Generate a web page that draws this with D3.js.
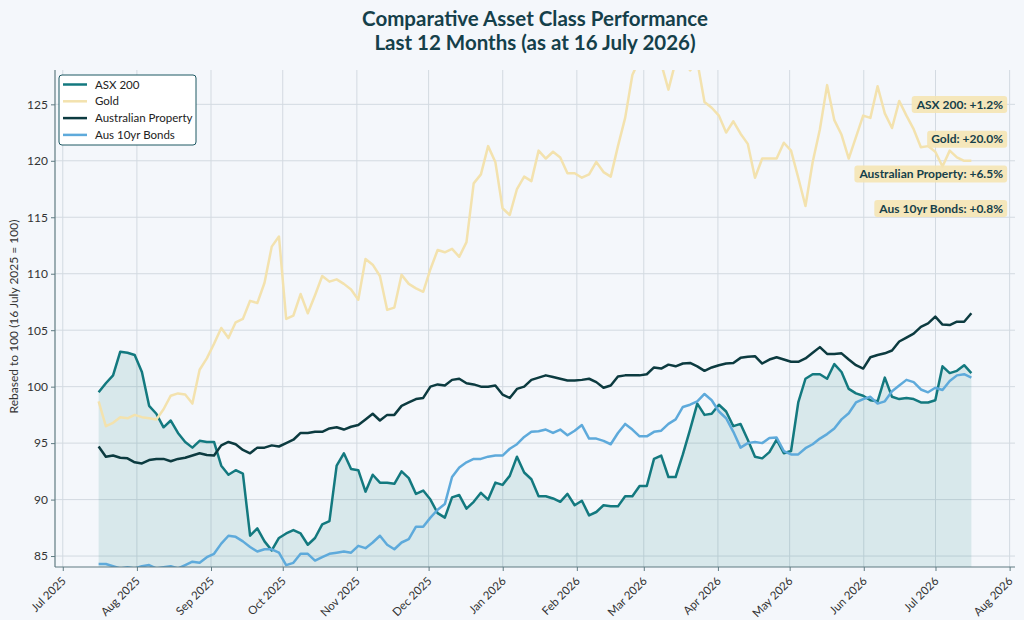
<!DOCTYPE html>
<html>
<head>
<meta charset="utf-8">
<script src="https://cdn.jsdelivr.net/npm/d3@7"></script>
<style>
  body { margin: 0; background: #f4f7fb; }
  svg text { font-family: "Source Sans Pro", Lato, "Noto Sans", sans-serif; }
</style>
</head>
<body>
<svg id="chart"></svg>
<script>
// series values, one reading every ~3 days from 16 Jul 2025 to 16 Jul 2026
var asx200 = [99.5, 100.3, 101.0, 103.1, 103.0, 102.8, 101.3, 98.3, 97.6, 96.4,
  97.0, 95.9, 95.1, 94.6, 95.2, 95.1, 95.1, 93.0, 92.2, 92.6,
  92.3, 86.8, 87.45, 86.3, 85.5, 86.6, 87.0, 87.3, 87.0, 86.0,
  86.6, 87.8, 88.1, 93.0, 94.1, 92.7, 92.6, 90.7, 92.2, 91.5,
  91.5, 91.4, 92.5, 91.9, 90.5, 90.8, 90.0, 88.8, 88.4, 90.2,
  90.4, 89.2, 89.8, 90.6, 90.0, 91.5, 91.3, 92.1, 93.8, 92.4,
  91.8, 90.3, 90.3, 90.1, 89.8, 90.5, 89.5, 89.9, 88.6, 88.9,
  89.5, 89.4, 89.4, 90.3, 90.3, 91.2, 91.2, 93.6, 93.9, 92.0,
  92.0, 94.0, 96.2, 98.5, 97.5, 97.6, 98.4, 97.8, 96.5, 96.7,
  95.3, 93.8, 93.65, 94.2, 95.3, 94.1, 94.3, 98.6, 100.7, 101.1,
  101.1, 100.7, 102.0, 101.3, 99.8, 99.4, 99.2, 98.8, 98.7, 100.8,
  99.1, 98.9, 99.0, 98.9, 98.6, 98.6, 98.8, 101.8, 101.2, 101.4,
  101.9, 101.2];

var gold = [98.7, 96.5, 96.8, 97.3, 97.2, 97.5, 97.3, 97.2, 97.1, 98.0,
  99.2, 99.4, 99.3, 98.5, 101.5, 102.5, 103.8, 105.2, 104.3, 105.7,
  106.0, 107.6, 107.4, 109.2, 112.4, 113.3, 106.0, 106.3, 108.2, 106.5,
  108.1, 109.8, 109.3, 109.5, 109.1, 108.6, 107.7, 111.3, 110.8, 109.8,
  106.8, 107.0, 109.9, 109.1, 108.7, 108.4, 110.4, 112.1, 111.9, 112.2,
  111.5, 112.8, 118.0, 118.8, 121.3, 119.9, 115.8, 115.2, 117.5, 118.6,
  118.2, 120.9, 120.2, 120.8, 120.3, 118.9, 118.9, 118.5, 118.8, 119.9,
  119.0, 118.6, 121.3, 123.8, 127.6, 129.0, 129.5, 129.3, 128.6, 126.3,
  128.8, 129.0, 128.0, 128.8, 125.2, 124.7, 124.0, 122.5, 123.5, 122.4,
  121.5, 118.5, 120.2, 120.2, 120.2, 121.6, 120.9, 118.5, 116.0, 119.9,
  122.8, 126.7, 123.6, 122.3, 120.2, 122.1, 124.0, 123.8, 126.6, 124.2,
  122.9, 125.3, 124.0, 122.8, 121.2, 121.3, 120.8, 119.5, 120.9, 120.3,
  120.0, 120.0];

var property = [94.7, 93.8, 93.9, 93.7, 93.65, 93.3, 93.2, 93.5, 93.6, 93.6,
  93.4, 93.6, 93.7, 93.9, 94.1, 93.95, 93.9, 94.8, 95.1, 94.9,
  94.4, 94.1, 94.6, 94.6, 94.8, 94.7, 95.0, 95.3, 95.9, 95.9,
  96.0, 96.0, 96.3, 96.4, 96.2, 96.45, 96.6, 97.1, 97.6, 97.0,
  97.5, 97.5, 98.3, 98.6, 98.9, 99.0, 100.0, 100.2, 100.1, 100.6,
  100.7, 100.3, 100.2, 100.0, 100.0, 100.1, 99.3, 99.0, 99.8, 100.0,
  100.6, 100.8, 101.0, 100.85, 100.7, 100.55, 100.55, 100.6, 100.7, 100.4,
  99.9, 100.1, 100.9, 101.0, 101.0, 101.0, 101.1, 101.7, 101.6, 101.95,
  101.8, 102.05, 102.1, 101.8, 101.4, 101.7, 101.9, 102.05, 102.1, 102.55,
  102.65, 102.7, 102.05, 102.4, 102.6, 102.4, 102.2, 102.2, 102.5, 103.0,
  103.5, 102.9, 102.9, 102.95, 102.4, 101.9, 101.6, 102.6, 102.8, 102.95,
  103.2, 104.0, 104.35, 104.7, 105.3, 105.6, 106.2, 105.5, 105.45, 105.75,
  105.75, 106.5];

var bonds = [84.3, 84.3, 84.1, 83.9, 84.0, 83.9, 84.1, 84.2, 83.9, 84.0,
  84.1, 83.9, 84.2, 84.5, 84.4, 84.9, 85.2, 86.1, 86.8, 86.7,
  86.3, 85.8, 85.4, 85.6, 85.6, 85.3, 84.2, 84.4, 85.2, 85.2,
  84.6, 84.9, 85.2, 85.3, 85.4, 85.3, 85.9, 85.7, 86.2, 86.8,
  86.0, 85.6, 86.2, 86.5, 87.6, 87.6, 88.4, 89.1, 89.6, 92.0,
  92.85, 93.3, 93.6, 93.6, 93.8, 93.9, 93.9, 94.5, 94.9, 95.55,
  96.0, 96.05, 96.2, 95.9, 96.2, 95.7, 96.1, 96.6, 95.4, 95.4,
  95.2, 94.9, 95.9, 96.7, 96.2, 95.6, 95.6, 96.0, 96.1, 96.7,
  97.1, 98.2, 98.4, 98.7, 99.35, 98.8, 97.8, 97.2, 96.0, 94.6,
  95.0, 95.1, 95.0, 95.45, 95.5, 94.3, 94.0, 94.0, 94.55, 94.9,
  95.4, 95.8, 96.3, 97.1, 97.65, 98.6, 98.9, 99.1, 98.5, 98.7,
  99.6, 100.1, 100.6, 100.4, 99.75, 99.5, 99.9, 99.7, 100.5, 101.0,
  101.1, 100.8];

var seriesNames = ["ASX 200", "Gold", "Australian Property", "Aus 10yr Bonds"];
var seriesColors = ["#13797f", "#f3e2ae", "#0c3b40", "#5eaadb"];
var endLabels = ["ASX 200: +1.2%", "Gold: +20.0%", "Australian Property: +6.5%", "Aus 10yr Bonds: +0.8%"];
var yTicks = [85, 90, 95, 100, 105, 110, 115, 120, 125];

var startDate = new Date(2025, 6, 16);
var endDate = new Date(2026, 6, 16);
var dates = asx200.map(function(d, i) {
  return new Date(+startDate + i * (endDate - startDate) / (asx200.length - 1));
});

var svgWidth = 1024;
var svgHeight = 620;
var margin = {top: 70, right: 9, bottom: 53, left: 55};
var width = svgWidth - margin.left - margin.right;
var height = svgHeight - margin.top - margin.bottom;

var svg = d3.select("#chart")
  .attr("width", svgWidth)
  .attr("height", svgHeight)
  .style("background", "#f4f7fb");

// title
var title = svg.append("text")
  .attr("x", margin.left + width / 2)
  .attr("text-anchor", "middle")
  .attr("fill", "#15404a")
  .style("font-size", "20.5px")
  .style("font-weight", "bold");
title.append("tspan").attr("x", margin.left + width / 2).attr("y", 26).text("Comparative Asset Class Performance");
title.append("tspan").attr("x", margin.left + width / 2).attr("y", 50).text("Last 12 Months (as at 16 July 2026)");

var chartGroup = svg.append("g")
  .attr("transform", `translate(${margin.left}, ${margin.top})`);

var pad = 18.25 * 864e5;
var xScale = d3.scaleTime()
  .domain([new Date(+startDate - pad), new Date(+endDate + pad)])
  .range([0, width]);
var yScale = d3.scaleLinear()
  .domain([84.03, 128.04])
  .range([height, 0]);

var monthTicks = d3.timeMonth.range(new Date(2025, 6, 1), new Date(2026, 7, 2));

// grid
chartGroup.append("g")
  .selectAll("line.v")
  .data(monthTicks)
  .enter()
  .append("line")
  .attr("x1", d => xScale(d)).attr("x2", d => xScale(d))
  .attr("y1", 0).attr("y2", height)
  .attr("stroke", "#d3dae1").attr("stroke-width", 1);
chartGroup.append("g")
  .selectAll("line.h")
  .data(yTicks)
  .enter()
  .append("line")
  .attr("x1", 0).attr("x2", width)
  .attr("y1", d => yScale(d)).attr("y2", d => yScale(d))
  .attr("stroke", "#d3dae1").attr("stroke-width", 1);

svg.append("clipPath").attr("id", "plotclip")
  .append("rect").attr("width", width).attr("height", height);

var plot = chartGroup.append("g").attr("clip-path", "url(#plotclip)");

// shaded area under ASX 200
var area = d3.area()
  .x((d, i) => xScale(dates[i]))
  .y0(height)
  .y1(d => yScale(d));
plot.append("path")
  .datum(asx200)
  .attr("d", area)
  .attr("fill", "#13797f")
  .attr("fill-opacity", 0.12);

var line = d3.line()
  .x((d, i) => xScale(dates[i]))
  .y(d => yScale(d));

var allSeries = [asx200, gold, property, bonds];
allSeries.forEach(function(s, k) {
  plot.append("path")
    .datum(s)
    .attr("d", line)
    .attr("fill", "none")
    .attr("stroke", seriesColors[k])
    .attr("stroke-width", 2.5)
    .attr("stroke-linejoin", "round");
});

// axes
var bottomAxis = d3.axisBottom(xScale)
  .tickValues(monthTicks)
  .tickFormat(d3.timeFormat("%b %Y"))
  .tickSize(4);
var leftAxis = d3.axisLeft(yScale)
  .tickValues(yTicks)
  .tickSize(4);

var xAxis = chartGroup.append("g")
  .attr("transform", `translate(0, ${height})`)
  .call(bottomAxis);
xAxis.selectAll("text")
  .style("font-size", "11.5px")
  .attr("fill", "#333")
  .attr("text-anchor", "end")
  .attr("x", -8)
  .attr("y", 12.8)
  .attr("dy", 0)
  .attr("transform", "rotate(-45)");

var yAxis = chartGroup.append("g").call(leftAxis);
yAxis.selectAll("text").style("font-size", "12px").attr("fill", "#333");

[xAxis, yAxis].forEach(function(a) {
  a.select(".domain").attr("stroke", "#5f7b82").attr("stroke-width", 1.2);
  a.selectAll(".tick line").attr("stroke", "#5f7b82");
});
xAxis.select(".domain").attr("d", `M0,0H${width}`);
yAxis.select(".domain").attr("d", `M0,${height}V0`);

chartGroup.append("text")
  .attr("transform", "rotate(-90)")
  .attr("x", -height / 2 + 2)
  .attr("y", -37)
  .attr("text-anchor", "middle")
  .attr("fill", "#333")
  .style("font-size", "12px")
  .text("Rebased to 100 (16 July 2025 = 100)");

// legend
var legend = chartGroup.append("g").attr("transform", "translate(4, 5)");
legend.append("rect")
  .attr("width", 137).attr("height", 70)
  .attr("rx", 3)
  .attr("fill", "#ffffff")
  .attr("stroke", "#1d5862")
  .attr("stroke-width", 1);
seriesNames.forEach(function(name, k) {
  var row = legend.append("g").attr("transform", `translate(0, ${9.5 + k * 16.8})`);
  row.append("line")
    .attr("x1", 4).attr("x2", 28)
    .attr("stroke", seriesColors[k])
    .attr("stroke-width", 2.5);
  row.append("text")
    .attr("x", 36).attr("dy", "0.35em")
    .attr("fill", "#222")
    .style("font-size", "11.5px")
    .text(name);
});

// end-value labels
var labelGroup = chartGroup.append("g");
endLabels.forEach(function(txt, k) {
  var cy = 34.5 + k * 34.7;
  var g = labelGroup.append("g");
  var t = g.append("text")
    .attr("x", width - 12)
    .attr("y", cy)
    .attr("dy", "0.35em")
    .attr("text-anchor", "end")
    .attr("fill", "#15404a")
    .style("font-size", "12px")
    .style("font-weight", "bold")
    .text(txt);
  var bb = t.node().getBBox();
  g.insert("rect", "text")
    .attr("x", bb.x - 4).attr("y", cy - 8.5)
    .attr("width", bb.width + 8).attr("height", 17)
    .attr("rx", 3)
    .attr("fill", "#f5e4b4")
    .attr("fill-opacity", 0.9);
});
</script>
</body>
</html>
